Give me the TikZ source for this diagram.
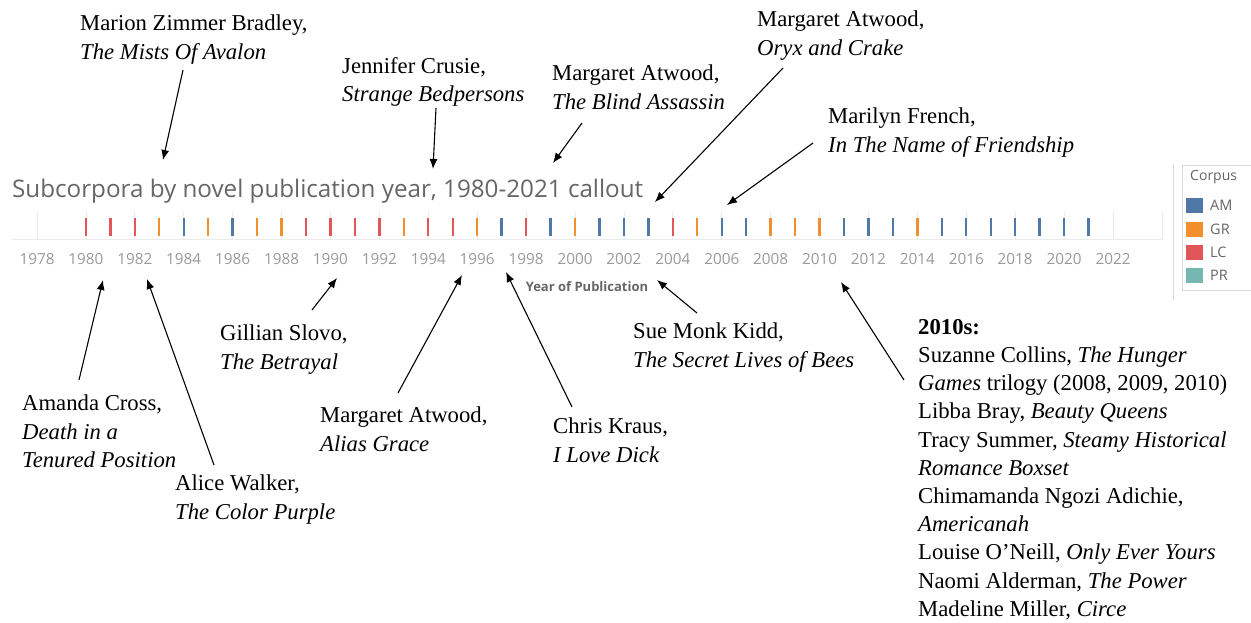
\documentclass[tikz,border=0pt]{standalone}
\usepackage{fontspec}
\setmainfont{Liberation Serif}
\newfontfamily\tabfont{Open Sans}
\usetikzlibrary{arrows.meta}
\definecolor{cAM}{HTML}{4E79A7}
\definecolor{cGR}{HTML}{F28E2B}
\definecolor{cLC}{HTML}{E15759}
\definecolor{cPR}{HTML}{76B7B2}
\definecolor{titlegray}{HTML}{666666}
\definecolor{axisgray}{HTML}{9A9A9A}
\definecolor{gridgray}{HTML}{EBEBEB}
\definecolor{panelgray}{HTML}{D9D9D9}
\begin{document}
\begin{tikzpicture}[x=1pt,y=-1pt,
  note/.style={anchor=north west, inner sep=0pt, align=left, font=\fontsize{22.7}{28.2}\selectfont},
  callout/.style={draw=black, line width=1.1pt, -{Latex[length=10pt,width=8pt]}},
  yearlbl/.style={anchor=base, inner sep=0pt, text=axisgray, font=\tabfont\fontsize{15.3}{17}\selectfont},
  legendlbl/.style={anchor=west, inner sep=0pt, text=titlegray, font=\tabfont\fontsize{14.5}{16}\selectfont},
  tickmark/.style={line width=2.4pt}
]
\useasboundingbox (0,0) rectangle (1251,622);
\fill[white] (0,0) rectangle (1251,622);

% grid and axis
\foreach \yr in {1978,1980,...,2022}{
  \draw[gridgray, line width=0.8pt] ({37+(\yr-1978)*24.455},212) -- ++(0,27);
  \node[yearlbl] (y\yr) at ({37+(\yr-1978)*24.455},264) {\yr};
}
\draw[gridgray, line width=0.8pt] (12,239) -- (1162,239);
\draw[gridgray, line width=0.8pt] (1162,212) -- (1162,239);

% ticks
\foreach \yr/\c in {1980/cLC,1981/cLC,1982/cLC,1983/cGR,1984/cAM,1985/cGR,1986/cAM,1987/cGR,1988/cGR,1989/cLC,
  1990/cLC,1991/cLC,1992/cLC,1993/cGR,1994/cLC,1995/cLC,1996/cGR,1997/cAM,1998/cLC,1999/cAM,
  2000/cGR,2001/cAM,2002/cAM,2003/cAM,2004/cLC,2005/cGR,2006/cAM,2007/cAM,2008/cGR,2009/cGR,
  2010/cGR,2011/cAM,2012/cAM,2013/cAM,2014/cGR,2015/cAM,2016/cAM,2017/cAM,2018/cAM,2019/cAM,
  2020/cAM,2021/cAM}{
  \draw[tickmark, \c] ({37+(\yr-1978)*24.455},218) -- ++(0,18);
}

% title and axis label
\node[anchor=base west, inner sep=0pt, text=titlegray, font=\tabfont\fontsize{24.2}{27}\selectfont] (title) at (12,197) {Subcorpora by novel publication year, 1980-2021 callout};
\node[anchor=base, inner sep=0pt, text=titlegray, font=\tabfont\bfseries\fontsize{13}{15}\selectfont] (xlabel) at (587,291) {Year of Publication};

% legend
\draw[panelgray, line width=0.8pt] (1173,165) -- (1173,300);
\draw[panelgray, line width=0.8pt] (1260,165) -- (1182,165) -- (1182,290) -- (1260,290);
\node[anchor=west, inner sep=0pt, text=titlegray, font=\tabfont\fontsize{14}{16}\selectfont] (corpus) at (1190,177) {Corpus};
\fill[cAM] (1186,198) rectangle (1203,213);
\fill[cGR] (1186,222) rectangle (1203,237);
\fill[cLC] (1186,245) rectangle (1203,260);
\fill[cPR] (1186,268) rectangle (1203,283);
\node[legendlbl] (lAM) at (1210,205.5) {AM};
\node[legendlbl] (lGR) at (1210,229.5) {GR};
\node[legendlbl] (lLC) at (1210,252.5) {LC};
\node[legendlbl] (lPR) at (1210,275.5) {PR};

% annotations above
\node[note] (bradley) at (80,15) {Marion Zimmer Bradley,\\\textit{The Mists Of Avalon}};
\node[note] (crusie) at (342,57) {Jennifer Crusie,\\\textit{Strange Bedpersons}};
\node[note] (blind) at (552,65) {Margaret Atwood,\\\textit{The Blind Assassin}};
\node[note] (oryx) at (757,11) {Margaret Atwood,\\\textit{Oryx and Crake}};
\node[note] (french) at (828,108) {Marilyn French,\\\textit{In The Name of Friendship}};

% annotations below
\node[note] (cross) at (22,395) {Amanda Cross,\\\textit{Death in a}\\\textit{Tenured Position}};
\node[note] (walker) at (175,475) {Alice Walker,\\\textit{The Color Purple}};
\node[note] (slovo) at (220,325) {Gillian Slovo,\\\textit{The Betrayal}};
\node[note] (grace) at (320,407) {Margaret Atwood,\\\textit{Alias Grace}};
\node[note] (kraus) at (553,418) {Chris Kraus,\\\textit{I Love Dick}};
\node[note] (kidd) at (633,323) {Sue Monk Kidd,\\\textit{The Secret Lives of Bees}};
\node[note] (tens) at (918,319) {\textbf{2010s:}\\Suzanne Collins, \textit{The Hunger}\\\textit{Games} trilogy (2008, 2009, 2010)\\Libba Bray, \textit{Beauty Queens}\\Tracy Summer, \textit{Steamy Historical}\\\textit{Romance Boxset}\\Chimamanda Ngozi Adichie,\\\textit{Americanah}\\Louise O’Neill, \textit{Only Ever Yours}\\Naomi Alderman, \textit{The Power}\\Madeline Miller, \textit{Circe}};

% arrow ends
\coordinate (bradleyT) at (183,70);  \coordinate (bradleyH) at (163,160);
\coordinate (crusieT) at (436,108);  \coordinate (crusieH) at (433,169);
\coordinate (blindT) at (582,123);   \coordinate (blindH) at (553,163);
\coordinate (oryxT) at (783,68);     \coordinate (oryxH) at (655,202);
\coordinate (frenchT) at (813,143);  \coordinate (frenchH) at (727,205);
\coordinate (crossT) at (79,380);    \coordinate (crossH) at (103,280);
\coordinate (walkerT) at (214,465);  \coordinate (walkerH) at (147,279);
\coordinate (slovoT) at (312,310);   \coordinate (slovoH) at (337,278);
\coordinate (graceT) at (398,393);   \coordinate (graceH) at (462,275);
\coordinate (krausT) at (572,407);   \coordinate (krausH) at (506,272);
\coordinate (kiddT) at (697,313);    \coordinate (kiddH) at (657,280);
\coordinate (tensT) at (904,380);    \coordinate (tensH) at (841,282);

\foreach \n in {bradley,crusie,blind,oryx,french,cross,walker,slovo,grace,kraus,kidd,tens}{
  \draw[callout] (\n T) -- (\n H);
}
\end{tikzpicture}
\end{document}
